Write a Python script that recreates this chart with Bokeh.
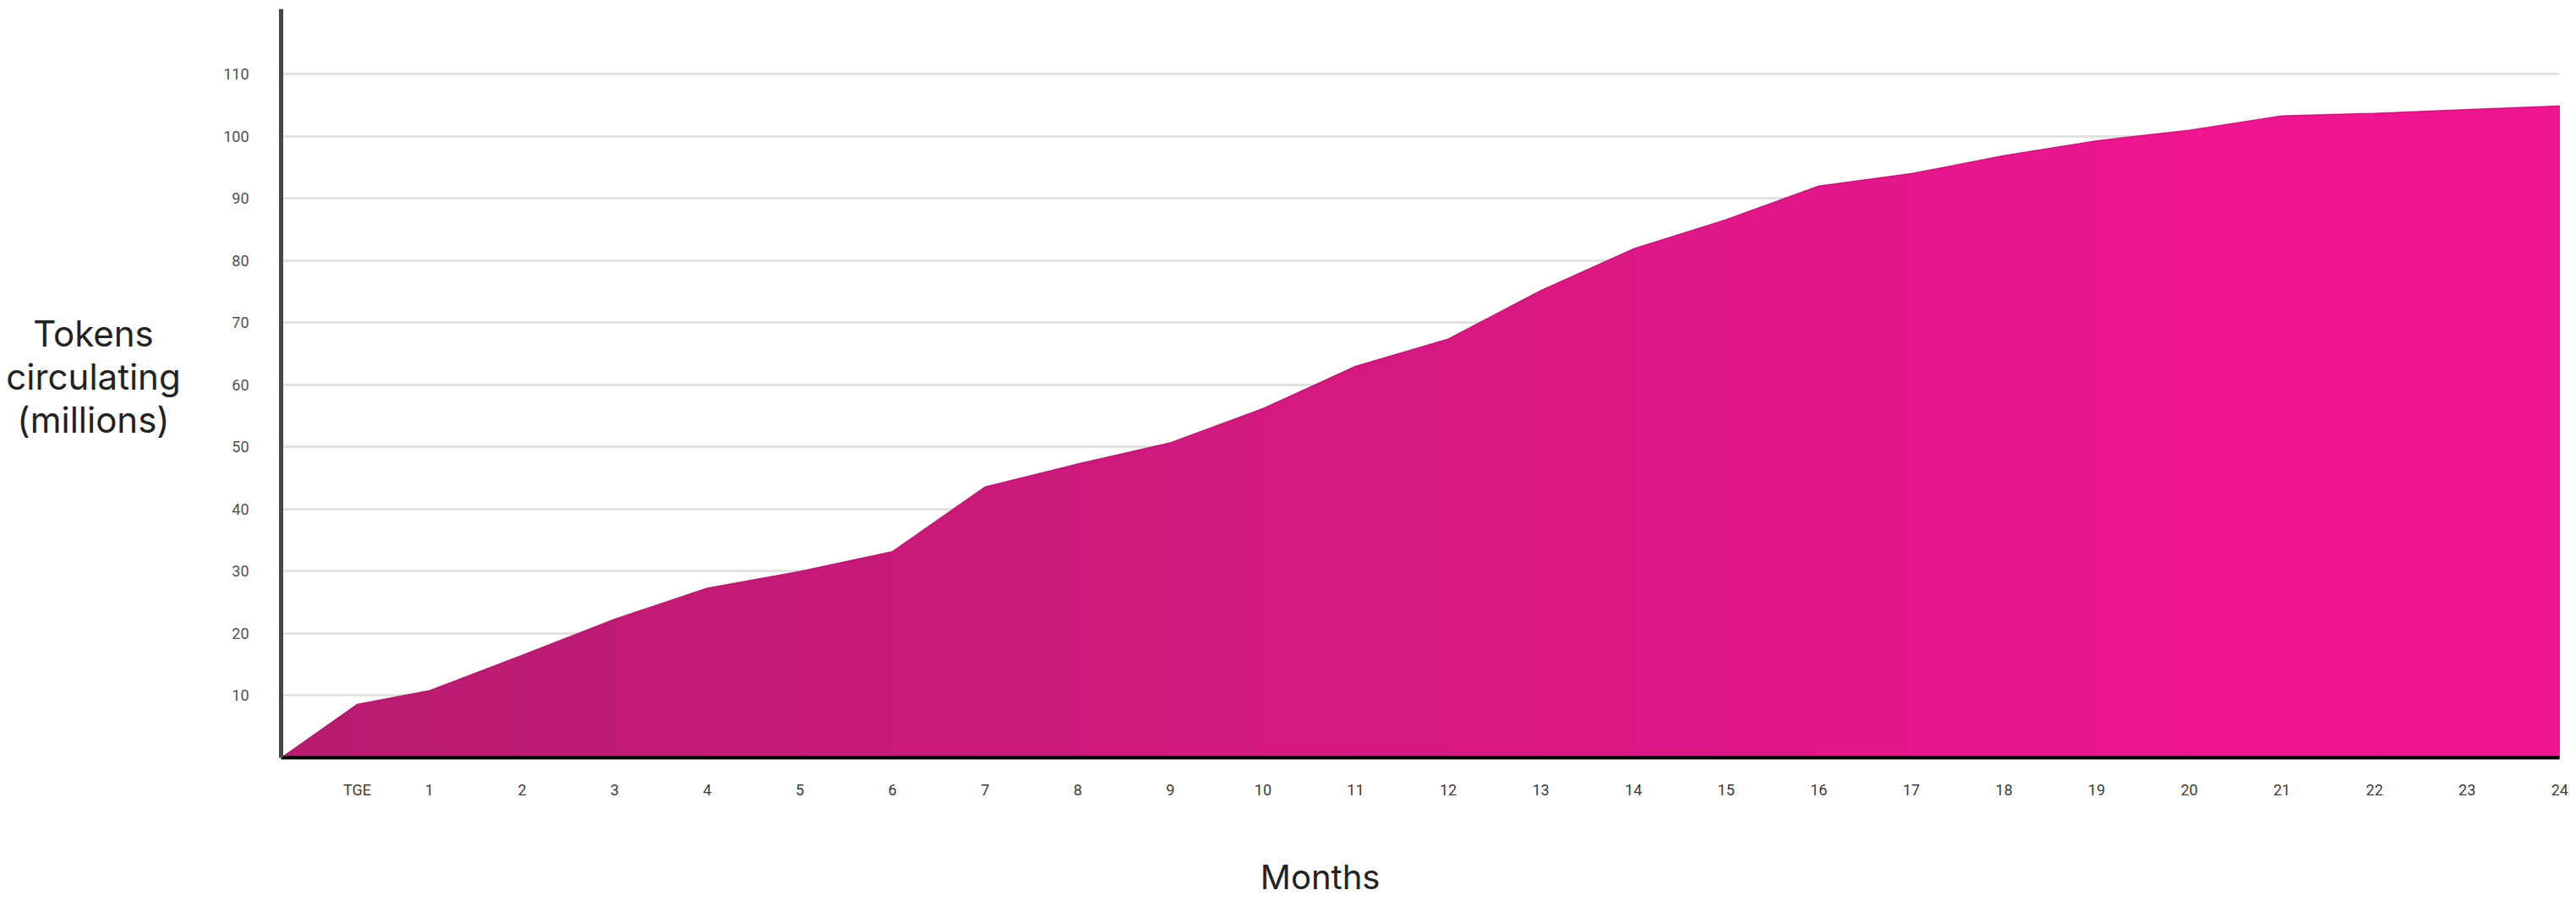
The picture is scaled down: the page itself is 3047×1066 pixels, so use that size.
from bokeh.plotting import figure
from bokeh.models import Range1d, FixedTicker, Label
from bokeh.embed import file_html
from bokeh.resources import INLINE

# ---------------- data ----------------
month_labels = ["TGE"] + [str(m) for m in range(1, 25)]
month_pos = [0.22] + list(range(1, 25))
tokens_m = [8.6, 10.8, 16.5, 22.3, 27.3, 30.0, 33.2, 43.6, 47.3, 50.7,
            56.2, 63.0, 67.4, 75.2, 81.9, 86.6, 92.0, 94.0, 96.9, 99.3,
            101.0, 103.3, 103.7, 104.3, 104.9]
start_pos = -0.6
start_tokens = 0.0
y_ticks = [10, 20, 30, 40, 50, 60, 70, 80, 90, 100, 110]
y_top = 120.5

xs = [start_pos] + month_pos
ys = [start_tokens] + tokens_m

# ---------------- styles ----------------
COL_LEFT = "#B61C6F"
COL_RIGHT = "#EE1690"
LABEL_FONT = "Inter"
TICK_FONT = "Roboto"
GRID_COLOR = "#e2e2e2"


def mix(c1, c2, t):
    a = [int(c1[i:i + 2], 16) for i in (1, 3, 5)]
    b = [int(c2[i:i + 2], 16) for i in (1, 3, 5)]
    return "#%02x%02x%02x" % tuple(round(a[k] + (b[k] - a[k]) * t) for k in range(3))


# The frame covers the whole canvas; axes sit at fixed data locations so the
# axis titles can be placed freely as labels.
p = figure(width=3047, height=1066, output_backend="svg", toolbar_location=None,
           x_range=Range1d(-3.631, 24.18), y_range=Range1d(-23.12, y_top),
           min_border_left=0, min_border_right=0, min_border_top=10,
           min_border_bottom=0)
p.outline_line_color = None
p.background_fill_color = "white"
p.border_fill_color = "white"

# ---------------- grid ----------------
p.xgrid.visible = False
if "cross_bounds" in p.ygrid.properties():
    p.ygrid.ticker = FixedTicker(ticks=y_ticks)
    p.ygrid.cross_bounds = (start_pos, month_pos[-1])
    p.ygrid.grid_line_color = GRID_COLOR
    p.ygrid.grid_line_width = 3
else:
    p.ygrid.visible = False
    p.segment(x0=[start_pos] * len(y_ticks), x1=[month_pos[-1]] * len(y_ticks),
              y0=y_ticks, y1=y_ticks, line_color=GRID_COLOR, line_width=3,
              level="underlay")

# ---------------- area ----------------
# base area (under the gradient strips, hides seams)
p.varea(x=xs, y1=[0] * len(xs), y2=ys, fill_color=mix(COL_LEFT, COL_RIGHT, 0.5))

span = xs[-1] - xs[0]
for i in range(len(xs) - 1):
    t = ((xs[i] + xs[i + 1]) / 2 - xs[0]) / span
    t = min(1.0, t / 0.85)
    p.varea(x=[xs[i], xs[i + 1]], y1=[0, 0], y2=[ys[i], ys[i + 1]],
            fill_color=mix(COL_LEFT, COL_RIGHT, t))

p.line(xs, ys, line_color="#7e1d52", line_width=1.5, line_alpha=0.55)

# ---------------- axes ----------------
ya = p.yaxis[0]
ya.fixed_location = start_pos
ya.bounds = (0, y_top)
ya.ticker = FixedTicker(ticks=y_ticks)
ya.axis_line_color = "#464646"
ya.axis_line_width = 5
ya.major_tick_line_color = None
ya.minor_tick_line_color = None
ya.major_label_text_font = TICK_FONT
ya.major_label_text_font_size = "18px"
ya.major_label_text_color = "#505050"
ya.major_label_standoff = 32

xa = p.xaxis[0]
xa.fixed_location = 0
xa.bounds = (start_pos, month_pos[-1])
xa.ticker = FixedTicker(ticks=month_pos)
xa.major_label_overrides = {pos: lab for pos, lab in zip(month_pos, month_labels)}
xa.axis_line_color = "#000000"
xa.axis_line_width = 4
xa.major_tick_line_color = None
xa.minor_tick_line_color = None
xa.major_label_text_font = TICK_FONT
xa.major_label_text_font_size = "18px"
xa.major_label_text_color = "#3c3c3c"
xa.major_label_standoff = 21

# ---------------- axis titles ----------------
y_title = Label(x=-2.627, y=61.3, text="Tokens\ncirculating\n(millions)",
                text_align="center", text_baseline="middle",
                text_font=LABEL_FONT, text_font_size="42px",
                text_color="#222222", text_line_height=1.0)
p.add_layout(y_title)

x_title = Label(x=10.618, y=-19.2, text="Months", text_align="center",
                text_baseline="middle", text_font=LABEL_FONT,
                text_font_size="40px", text_color="#222222")
p.add_layout(x_title)

open("out.html", "w").write(file_html(p, INLINE))
